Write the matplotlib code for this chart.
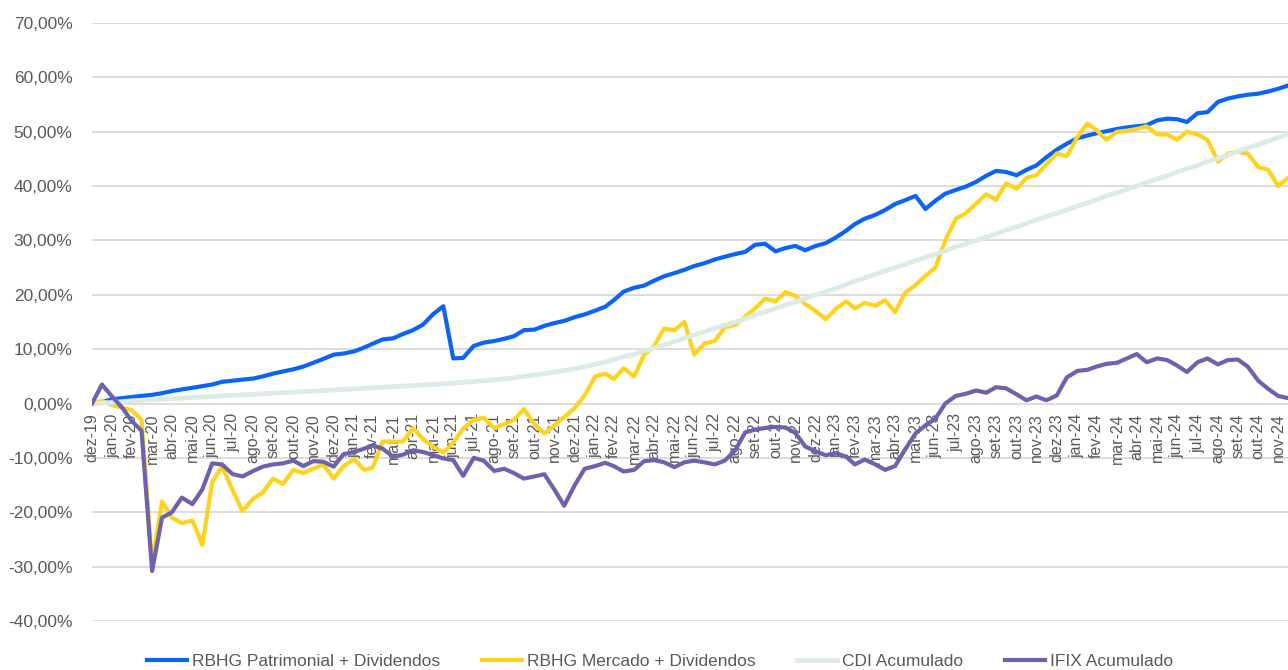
import matplotlib
matplotlib.use("Agg")
import matplotlib.pyplot as plt
from matplotlib.ticker import FuncFormatter
import pandas as pd

plt.rcParams["font.family"] = ["Liberation Sans", "DejaVu Sans"]

# datas: fim de mes e dia 15, de dez-19 a dez-24
month_starts = pd.date_range("2020-01-01", periods=60, freq="MS")
dates = []
for ms in month_starts:
    dates.append(ms - pd.Timedelta(days=1))
    dates.append(ms + pd.Timedelta(days=14))

meses = ["jan", "fev", "mar", "abr", "mai", "jun", "jul", "ago", "set", "out", "nov", "dez"]

patrimonial = [
    0.0, 0.3, 0.8, 1.0, 1.2, 1.4, 1.6, 1.9, 2.3, 2.6,
    2.9, 3.2, 3.5, 4.0, 4.2, 4.4, 4.6, 5.0, 5.5, 5.9,
    6.3, 6.8, 7.5, 8.2, 9.0, 9.2, 9.6, 10.3, 11.0, 11.8,
    12.0, 12.8, 13.5, 14.5, 16.5, 17.9, 8.3, 8.4, 10.6, 11.2,
    11.5, 11.9, 12.4, 13.5, 13.6, 14.3, 14.8, 15.2, 15.9, 16.4,
    17.1, 17.8, 19.0, 20.6, 21.3, 21.7, 22.6, 23.4, 24.0, 24.6,
    25.3, 25.8, 26.5, 27.0, 27.5, 27.9, 29.2, 29.4, 28.0, 28.6,
    29.0, 28.2, 29.0, 29.5, 30.6, 31.8, 33.0, 34.0, 34.7, 35.6,
    36.7, 37.4, 38.2, 35.8, 37.3, 38.6, 39.3, 39.9, 40.8, 41.9,
    42.8, 42.6, 42.0, 43.0, 43.8, 45.3, 46.7, 47.8, 48.8, 49.3,
    49.7, 50.1, 50.5, 50.8, 51.0, 51.2, 52.1, 52.4, 52.3, 51.8,
    53.4, 53.6, 55.5, 56.1, 56.5, 56.8, 57.0, 57.4, 57.9, 58.5,
]

mercado = [
    0.0, 0.5, -0.3, -0.8, -1.2, -3.0, -29.5, -18.0, -21.0, -22.0,
    -21.5, -26.0, -14.5, -11.5, -16.0, -19.8, -17.5, -16.3, -13.8, -14.8,
    -12.2, -12.8, -12.0, -11.2, -13.8, -11.5, -10.2, -12.2, -11.8, -7.0,
    -7.0, -7.0, -4.5, -6.5, -8.0, -9.0, -7.2, -4.6, -3.0, -2.6,
    -4.5, -3.8, -3.0, -1.0, -3.8, -5.5, -4.0, -2.5, -0.8, 1.5,
    5.0, 5.5, 4.5, 6.5, 5.0, 9.0, 10.5, 13.8, 13.5, 15.0,
    9.0, 11.0, 11.5, 14.0, 14.5, 16.0, 17.5, 19.3, 18.8, 20.5,
    19.8, 18.3, 17.0, 15.5, 17.5, 18.8, 17.5, 18.5, 18.0, 19.0,
    16.8, 20.3, 21.8, 23.5, 25.0, 30.0, 34.0, 35.0, 36.8, 38.5,
    37.5, 40.5, 39.5, 41.5, 42.0, 44.0, 46.0, 45.5, 49.0, 51.5,
    50.3, 48.5, 50.0, 50.2, 50.5, 51.0, 49.5, 49.5, 48.5, 50.0,
    49.5, 48.5, 44.5, 46.0, 46.3, 46.0, 43.5, 43.0, 40.0, 41.5,
]

cdi = [
    0.0, 0.1, 0.2, 0.35, 0.5, 0.6, 0.7, 0.8, 0.9, 1.0,
    1.1, 1.2, 1.3, 1.4, 1.5, 1.6, 1.7, 1.8, 1.9, 2.0,
    2.1, 2.2, 2.3, 2.4, 2.5, 2.6, 2.7, 2.8, 2.9, 3.0,
    3.1, 3.2, 3.3, 3.4, 3.5, 3.6, 3.75, 3.9, 4.05, 4.2,
    4.35, 4.55, 4.75, 5.0, 5.25, 5.5, 5.8, 6.1, 6.4, 6.8,
    7.2, 7.6, 8.1, 8.6, 9.1, 9.7, 10.2, 10.8, 11.4, 12.0,
    12.6, 13.2, 13.8, 14.4, 15.0, 15.6, 16.3, 16.9, 17.5, 18.1,
    18.7, 19.3, 20.0, 20.6, 21.2, 21.9, 22.5, 23.1, 23.8, 24.4,
    25.0, 25.6, 26.3, 26.9, 27.5, 28.1, 28.8, 29.4, 30.0, 30.6,
    31.2, 31.9, 32.5, 33.1, 33.8, 34.4, 35.0, 35.6, 36.3, 36.9,
    37.5, 38.2, 38.8, 39.4, 40.0, 40.7, 41.3, 41.9, 42.6, 43.2,
    43.8, 44.5, 45.1, 45.7, 46.4, 47.0, 47.6, 48.3, 48.9, 49.6,
]

ifix = [
    0.0, 3.5, 1.2, -0.8, -3.2, -5.0, -30.8, -21.0, -20.0, -17.3,
    -18.5, -15.8, -11.0, -11.2, -13.0, -13.4, -12.4, -11.6, -11.2, -11.0,
    -10.5, -11.5, -10.6, -10.7, -11.6, -9.3, -8.9, -8.3, -7.7, -8.3,
    -9.8, -9.4, -8.6, -8.9, -9.5, -10.1, -10.4, -13.3, -10.0, -10.5,
    -12.4, -12.0, -12.8, -13.8, -13.4, -13.0, -15.8, -18.8, -15.0, -12.0,
    -11.5, -10.9, -11.5, -12.5, -12.2, -10.6, -10.4, -10.8, -11.7, -10.8,
    -10.5, -10.8, -11.2, -10.5, -8.6, -5.3, -4.8, -4.5, -4.3, -4.4,
    -5.4, -7.9, -8.8, -9.5, -9.1, -9.8, -11.2, -10.3, -11.2, -12.2,
    -11.5, -8.5, -5.5, -4.0, -2.8, 0.0, 1.4, 1.8, 2.4, 2.0,
    3.0, 2.8, 1.7, 0.6, 1.3, 0.6, 1.5, 4.8, 6.0, 6.2,
    6.8, 7.3, 7.5, 8.3, 9.1, 7.6, 8.3, 8.0, 7.0, 5.8,
    7.6, 8.3, 7.2, 8.0, 8.1, 6.8, 4.2, 2.7, 1.4, 1.0,
]

fig = plt.figure(figsize=(12.88, 6.70), dpi=100)
ax = fig.add_axes([92 / 1288, 49 / 670, 1196 / 1288, 598 / 670])

ax.plot(dates, patrimonial, color="#0A64F8", linewidth=3.0, label="RBHG Patrimonial + Dividendos", zorder=3)
ax.plot(dates, mercado, color="#FFD21E", linewidth=3.0, label="RBHG Mercado + Dividendos", zorder=4)
ax.plot(dates, cdi, color="#DCEBE3", linewidth=3.4, label="CDI Acumulado", zorder=5)
ax.plot(dates, ifix, color="#6E62AE", linewidth=3.0, label="IFIX Acumulado", zorder=6)

ax.set_xlim(dates[0], dates[-1])
ax.set_ylim(-40, 70)
ax.set_yticks(range(-40, 71, 10))
ax.yaxis.set_major_formatter(FuncFormatter(lambda v, p: f"{v:.2f}%".replace(".", ",")))
ax.tick_params(axis="y", length=0, pad=14, labelsize=12.5, labelcolor="#595959")
ax.set_xticks([])
ax.grid(axis="y", color="#D9D9D9", linewidth=1.3, zorder=0)
ax.set_axisbelow(True)
for s in ax.spines.values():
    s.set_visible(False)

# rotulos de mes junto a linha do zero
for d in dates[::2]:
    lab = f"{meses[d.month - 1]}-{d.year % 100:02d}"
    ax.annotate(lab, xy=(d, 0), xytext=(0, -7), textcoords="offset points",
                rotation=90, ha="center", va="top", fontsize=11.5,
                color="#595959", zorder=2, annotation_clip=False)

fig.legend(loc="center", bbox_to_anchor=(660 / 1288, 1 - 661 / 670), ncol=4,
           frameon=False, fontsize=12.5, handlelength=2.3, handletextpad=0.3,
           columnspacing=2.4, labelcolor="#595959")

fig.savefig("out.png", dpi=100, facecolor="white")
